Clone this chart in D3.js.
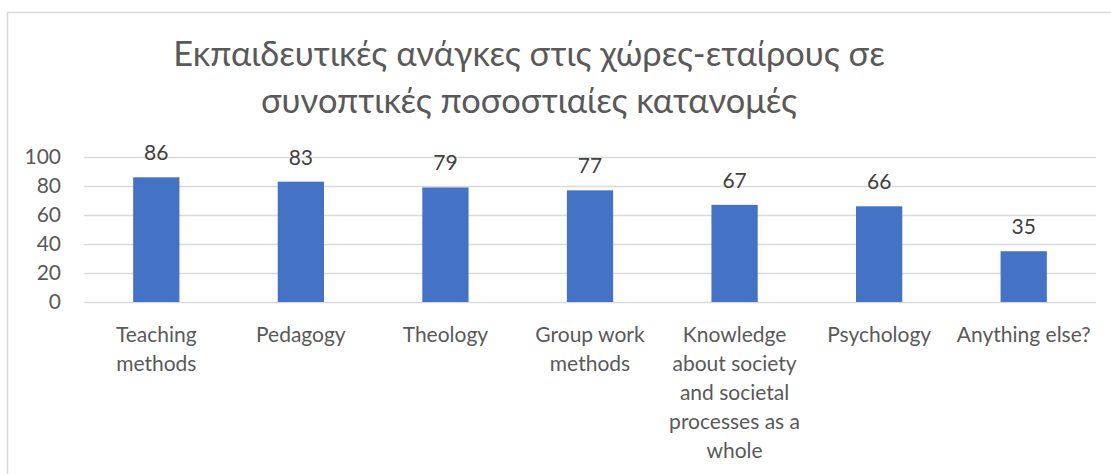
<!DOCTYPE html>
<html>
<head>
<meta charset="utf-8">
<script src="https://cdn.jsdelivr.net/npm/d3@7"></script>
<style>
  body { margin: 0; background: #fff; }
  svg { display: block; font-family: Lato, "Open Sans", sans-serif; }
</style>
</head>
<body>
<svg id="chart"></svg>
<script>
const titleLines = ["Εκπαιδευτικές ανάγκες στις χώρες-εταίρους σε", "συνοπτικές ποσοστιαίες κατανομές"];
const categories = [
    "Teaching\nmethods",
    "Pedagogy",
    "Theology",
    "Group work\nmethods",
    "Knowledge\nabout society\nand societal\nprocesses as a\nwhole",
    "Psychology",
    "Anything else?"
];
const values = [86, 83, 79, 77, 67, 66, 35];
const yTicks = [0, 20, 40, 60, 80, 100];

const width = 1111, height = 474;
const margin = { top: 157, right: 15, bottom: 172, left: 84 };
const innerW = width - margin.left - margin.right;
const innerH = height - margin.top - margin.bottom;
const fs = 21;

const svg = d3.select("#chart").attr("width", width).attr("height", height);

// outer chart border
svg.append("rect")
    .attr("x", 7.5).attr("y", 12.5)
    .attr("width", width + 20).attr("height", height + 20)
    .attr("fill", "none").attr("stroke", "#d9d9d9").attr("stroke-width", 1.5);

svg.append("text")
    .attr("text-anchor", "middle")
    .attr("fill", "#595959")
    .attr("font-size", 34.4)
    .selectAll("tspan")
    .data(titleLines)
    .join("tspan")
    .attr("x", 529)
    .attr("y", (d, i) => 66 + i * 47)
    .text(d => d);

const x = d3.scaleBand().domain(categories).range([0, innerW]).paddingInner(0.68).paddingOuter(0.34);
const y = d3.scaleLinear().domain([0, 100]).range([innerH, 0]);

const g = svg.append("g").attr("transform", "translate(" + margin.left + "," + margin.top + ")");

// gridlines
g.append("g")
    .selectAll("line")
    .data(yTicks)
    .join("line")
    .attr("x1", 0).attr("x2", innerW)
    .attr("y1", d => y(d) + 0.5).attr("y2", d => y(d) + 0.5)
    .attr("stroke", "#d9d9d9").attr("stroke-width", 1.3);

const yAxis = g.append("g")
    .call(d3.axisLeft(y).tickValues(yTicks).tickSize(0).tickPadding(23));
yAxis.select(".domain").remove();
yAxis.selectAll("text")
    .attr("fill", "#595959")
    .attr("font-size", fs)
    .attr("font-family", "Lato, 'Open Sans', sans-serif");

g.append("g")
    .selectAll("rect")
    .data(values)
    .join("rect")
    .attr("x", (d, i) => x(categories[i]))
    .attr("y", d => y(d))
    .attr("width", x.bandwidth())
    .attr("height", d => innerH - y(d))
    .attr("fill", "#4472c4");

g.append("g")
    .selectAll("text")
    .data(values)
    .join("text")
    .attr("x", (d, i) => x(categories[i]) + x.bandwidth() / 2)
    .attr("y", d => y(d) - 17)
    .attr("text-anchor", "middle")
    .attr("fill", "#404040")
    .attr("font-size", fs)
    .text(d => d);

// category labels, with their line breaks
const xLabels = g.append("g")
    .attr("transform", "translate(0," + innerH + ")")
    .selectAll("text")
    .data(categories)
    .join("text")
    .attr("text-anchor", "middle")
    .attr("fill", "#595959")
    .attr("font-size", fs);
xLabels.selectAll("tspan")
    .data(d => d.split("\n").map(t => ({ t, c: d })))
    .join("tspan")
    .attr("x", d => x(d.c) + x.bandwidth() / 2)
    .attr("y", (d, i) => 40 + i * 29)
    .text(d => d.t);
</script>
</body>
</html>
